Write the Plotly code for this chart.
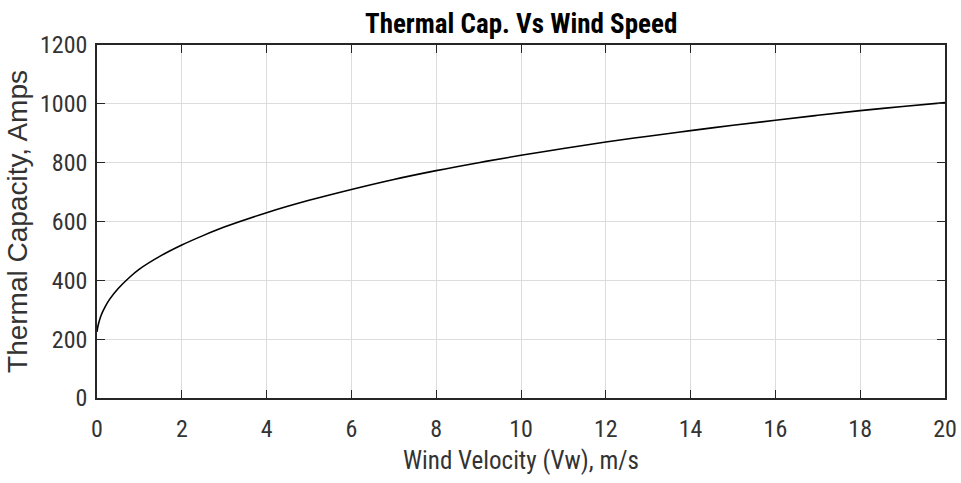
import plotly.graph_objects as go

# Data
wind_speed = [0, 0.02, 0.05, 0.1, 0.2, 0.3, 0.5, 0.75, 1, 1.5, 2, 2.5, 3, 4, 5, 6, 7, 8, 9,
              10, 11, 12, 13, 14, 15, 16, 17, 18, 19, 20]
thermal_cap = [225, 243, 260, 282, 312, 336, 372, 408, 438, 483, 520, 552, 581, 630, 672, 709,
               743, 773, 800, 825, 848, 870, 890, 909, 927, 944, 961, 977, 991, 1004]

x_ticks = [0, 2, 4, 6, 8, 10, 12, 14, 16, 18, 20]
y_ticks = [0, 200, 400, 600, 800, 1000, 1200]

title_text = "Thermal Cap. Vs Wind Speed"
x_label = "Wind Velocity (Vw), m/s"
y_label = "Thermal Capacity, Amps"

narrow = "Liberation Sans Narrow, Arial Narrow, Roboto Condensed, Liberation Sans, Arial, sans-serif"
regular = "Liberation Sans, Arial, sans-serif"
axis_col = "#262626"
grid_col = "#dcdcdc"

fig = go.Figure()
fig.add_trace(go.Scatter(x=wind_speed, y=thermal_cap, mode="lines",
                         line=dict(color="black", width=1.6, shape="spline", smoothing=1.0),
                         showlegend=False, hoverinfo="x+y"))

axis_common = dict(showline=True, linecolor=axis_col, linewidth=1.6, mirror="allticks",
                   ticks="inside", ticklen=8, tickwidth=1.4, tickcolor=axis_col,
                   showgrid=True, gridcolor=grid_col, gridwidth=1, zeroline=False,
                   automargin=False,
                   tickfont=dict(family=narrow, size=24, color="#333333"))

fig.update_xaxes(range=[0, 20], tickvals=x_ticks, ticktext=[str(v) for v in x_ticks],
                 ticklabelstandoff=8,
                 title=dict(text=x_label, font=dict(family=narrow, size=25, color="#333333"), standoff=10),
                 **axis_common)
fig.update_yaxes(range=[0, 1200], tickvals=y_ticks, ticktext=[str(v) for v in y_ticks],
                 ticklabelstandoff=3,
                 title=dict(text=y_label, font=dict(family=regular, size=28, color="#333333"), standoff=4),
                 **axis_common)

fig.add_annotation(text="<b>" + title_text + "</b>", xref="paper", yref="paper", x=0.5, y=1,
                   xanchor="center", yanchor="bottom", yshift=3, showarrow=False,
                   font=dict(family=narrow, size=27, color="black"))

fig.update_layout(width=961, height=483, paper_bgcolor="white", plot_bgcolor="white",
                  margin=dict(l=97, r=16, t=45, b=85))

fig.write_html("out.html")
